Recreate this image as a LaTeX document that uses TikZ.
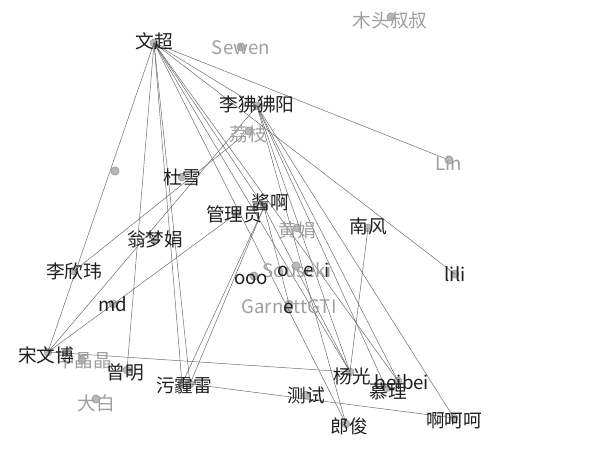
\documentclass[tikz,border=0pt]{standalone}
\usepackage{fontspec}
\newfontfamily\cjk{Noto Sans CJK SC}
\begin{document}
\begin{tikzpicture}[x=0.75pt,y=-0.75pt,
  dot/.style={circle,inner sep=0pt,minimum size=6pt,fill=gray!55,draw=gray!80},
  lab/.style={font=\cjk\fontsize{14}{16}\selectfont,text=black!88,inner sep=0pt},
  glab/.style={font=\cjk\fontsize{14}{16}\selectfont,text=gray!75,inner sep=0pt},
  edge/.style={draw=black!60,line width=0.35pt}]
\useasboundingbox (0,0) rectangle (600,468);
% node positions (dots)
\node[dot] (wc) at (154,43) {};
\node[dot] (sew) at (241,47) {};
\node[dot] (mt) at (391,17) {};
\node[dot] (lf) at (257,106) {};
\node[dot] (lz) at (249,131) {};
\node[dot] (lin) at (449,160) {};
\node[dot] (dx) at (182,177) {};
\node[dot] (jg) at (264,207) {};
\node[dot] (gl) at (236,214) {};
\node[dot] (hj) at (297,228) {};
\node[dot] (nf) at (368,228) {};
\node[dot] (wmj) at (155,239) {};
\node[dot] (lx) at (74,271) {};
\node[dot] (lili) at (455,274) {};
\node[dot] (oo) at (254,276) {};
\node[dot] (sk) at (296,266) {};
\node[dot] (gg) at (289,307) {};
\node[dot] (ee) at (289,304) {};
\node[dot] (md) at (113,304) {};
\node[dot] (sw) at (48,352) {};
\node[dot] (zj) at (82,360) {};
\node[dot] (zm) at (127,370) {};
\node[dot] (wm) at (182,384) {};
\node[dot] (wm2) at (190,384) {};
\node[dot] (yg) at (350,372) {};
\node[dot] (bb) at (398,381) {};
\node[dot] (ml) at (386,388) {};
\node[dot] (cs) at (306,395) {};
\node[dot] (db) at (96,399) {};
\node[dot] (lj) at (346,424) {};
\node[dot] (hh) at (454,418) {};
\node[dot] (xd) at (115,171) {};
% edges
\foreach \a/\b in {wc/sw,wc/zm,wc/wm,wc/wm2,wc/jg,wc/yg,wc/lin,wc/lili,wc/lf,wc/bb,wc/lj,
  lf/yg,lf/lj,lf/hh,lf/ml,lf/bb,lz/lx,sw/lf,gl/sw,jg/wm,jg/wm2,jg/ee,jg/yg,nf/yg,sw/yg,wm2/hh}
  \draw[edge] (\a.center) -- (\b.center);
% redraw visible dots above edges
\foreach \n/\x/\y in {sew/241/47,mt/391/17,lz/249/131,lin/449/160,db/96/399,xd/115/171,sk/296/266,oo/254/276}
  \node[dot] (d\n) at (\x,\y) {};
% labels
\node[glab] (tsew) at (241,48) {Sewen};
\node[glab] (tmt) at (390,20) {木头叔叔};
\node[glab] (tlz) at (248,134) {荔枝};
\node[glab] (tlin) at (449,163) {Lin};
\node[glab] (thj) at (297,230) {黄娟};
\node[glab] (tsk) at (297,270) {Souseki};
\node[glab] (tgg) at (289,307) {GarnettGTI};
\node[glab] (tzj) at (84,360) {中晶晶};
\node[glab] (tdb) at (96,403) {大白};
\node[lab] (twc) at (154,41) {文超};
\node[lab] (tlf) at (257,104) {李狒狒阳};
\node[lab] (tdx) at (182,177) {杜雪};
\node[lab] (tgl) at (234,214) {管理员};
\node[lab] (tjg) at (270,202) {酱啊};
\node[lab] (tnf) at (368,226) {南风};
\node[lab] (twmj) at (155,239) {翁梦娟};
\node[lab] (tlx) at (74,271) {李欣玮};
\node[lab] (tlili) at (455,274) {lili};
\node[lab] (too) at (251,279) {ooo};
\node[lab] (to) at (283,271) {o};
\node[lab] (te1) at (309,271) {e};
\node[lab] (ti) at (327,270) {i};
\node[lab] (tee) at (289,308) {e};
\node[lab] (tmd) at (113,304) {md};
\node[lab] (tsw) at (46,355) {宋文博};
\node[lab] (tzm) at (125,372) {曾明};
\node[lab] (twm) at (184,386) {污霾雷};
\node[lab] (tyg) at (352,376) {杨光};
\node[lab] (tbb) at (402,382) {beibei};
\node[lab] (tml) at (388,391) {慕理};
\node[lab] (tcs) at (306,395) {测试};
\node[lab] (tlj) at (349,426) {郎俊};
\node[lab] (thh) at (454,421) {啊呵呵};
\end{tikzpicture}
\end{document}
